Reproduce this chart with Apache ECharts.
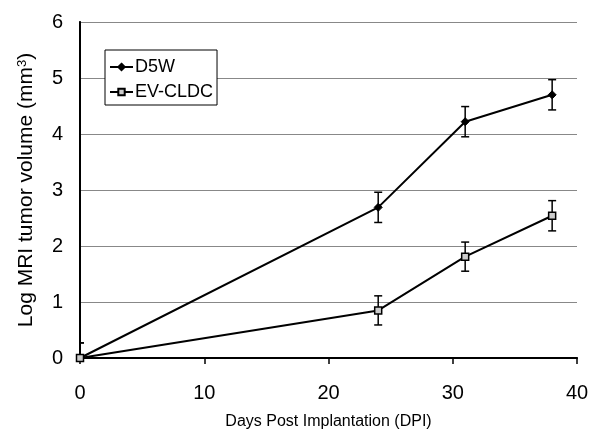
<!DOCTYPE html>
<html>
<head>
<meta charset="utf-8">
<script src="https://cdn.jsdelivr.net/npm/echarts@6/dist/echarts.min.js"></script>
<style>
  html, body { margin: 0; padding: 0; background: #fff; }
  #chart { width: 591px; height: 429px; }
</style>
</head>
<body>
<div id="chart"></div>
<script>
// Days post implantation at which tumors were imaged
const days = [0, 24, 31, 38];
// Mean log tumor volume and standard error per group
const d5w = [0, 2.69, 4.22, 4.70];
const d5wErr = [0.27, 0.27, 0.27, 0.27];
const evCldc = [0, 0.85, 1.81, 2.54];
const evCldcErr = [0.27, 0.26, 0.26, 0.27];
const seriesNames = ['D5W', 'EV-CLDC'];

const FONT = '"Liberation Sans", Arial, sans-serif';

function errorData(values, errs) {
  return days.map((d, i) => [d, values[i] - errs[i], values[i] + errs[i]]);
}

function renderErrorBar(params, api) {
  const x = api.value(0);
  const lo = api.coord([x, api.value(1)]);
  const hi = api.coord([x, api.value(2)]);
  const half = 4;
  const style = { stroke: '#000', lineWidth: 1.5 };
  return {
    type: 'group',
    children: [
      { type: 'line', shape: { x1: hi[0], y1: hi[1], x2: lo[0], y2: lo[1] }, style },
      { type: 'line', shape: { x1: hi[0] - half, y1: hi[1], x2: hi[0] + half, y2: hi[1] }, style },
      { type: 'line', shape: { x1: lo[0] - half, y1: lo[1], x2: lo[0] + half, y2: lo[1] }, style }
    ]
  };
}

const chart = echarts.init(document.getElementById('chart'), null, { renderer: 'canvas' });

chart.setOption({
  animation: false,
  backgroundColor: '#fff',
  textStyle: { fontFamily: FONT, color: '#000' },
  grid: { left: 80, right: 14, top: 22, bottom: 71, containLabel: false, outerBoundsMode: 'none' },
  legend: {
    data: seriesNames,
    orient: 'vertical',
    left: 105,
    top: 50,
    padding: [8, 4, 4, 4],
    itemGap: 7,
    itemWidth: 23,
    itemHeight: 8,
    backgroundColor: '#fff',
    borderColor: '#000',
    borderWidth: 1,
    borderRadius: 0,
    textStyle: { fontFamily: FONT, fontSize: 18, color: '#000', padding: [0, 0, 0, -3] }
  },
  xAxis: [{
    type: 'value',
    min: 0,
    max: 40,
    interval: 10,
    name: 'Days Post Implantation (DPI)',
    nameLocation: 'middle',
    nameGap: 56,
    nameTextStyle: { fontFamily: FONT, fontSize: 16, color: '#000' },
    axisLine: { show: true, onZero: false, lineStyle: { color: '#000', width: 2 } },
    axisTick: { show: true, inside: false, length: 6, lineStyle: { color: '#000', width: 1.5 } },
    axisLabel: { fontFamily: FONT, fontSize: 20, color: '#000', margin: 25 },
    splitLine: { show: false }
  }, {
    type: 'value',
    position: 'top',
    min: 0,
    max: 40,
    axisLine: { show: true, lineStyle: { color: '#000', width: 1.5 } },
    axisTick: { show: false },
    axisLabel: { show: false },
    splitLine: { show: false }
  }],
  yAxis: [{
    type: 'value',
    min: 0,
    max: 6,
    interval: 1,
    name: 'Log MRI tumor volume (mm{sup|3})',
    nameLocation: 'middle',
    nameRotate: 90,
    nameGap: 43,
    nameTextStyle: {
      fontFamily: FONT, fontSize: 21, color: '#000',
      rich: { sup: { fontFamily: FONT, fontSize: 13, color: '#000', verticalAlign: 'top', padding: [0, 0, 8, 0] } }
    },
    axisLine: { show: true, onZero: false, lineStyle: { color: '#000', width: 2 } },
    axisTick: { show: false },
    axisLabel: { fontFamily: FONT, fontSize: 20, color: '#000', margin: 17 },
    splitLine: { show: true, lineStyle: { color: '#888', width: 1 } }
  }, {
    type: 'value',
    position: 'right',
    min: 0,
    max: 6,
    axisLine: { show: true, lineStyle: { color: '#000', width: 1.5 } },
    axisTick: { show: false },
    axisLabel: { show: false },
    splitLine: { show: false }
  }],
  series: [
    {
      name: 'D5W',
      type: 'line',
      data: days.map((d, i) => [d, d5w[i]]),
      symbol: 'diamond',
      symbolSize: 8,
      lineStyle: { color: '#000', width: 2 },
      itemStyle: { color: '#000', borderColor: '#000', borderWidth: 1 },
      z: 3
    },
    {
      name: 'EV-CLDC',
      type: 'line',
      data: days.map((d, i) => [d, evCldc[i]]),
      symbol: 'rect',
      symbolSize: 7,
      lineStyle: { color: '#000', width: 2 },
      itemStyle: { color: '#ccc', borderColor: '#000', borderWidth: 1.5 },
      z: 3
    },
    {
      name: 'D5W error',
      type: 'custom',
      renderItem: renderErrorBar,
      data: errorData(d5w, d5wErr),
      encode: { x: 0, y: [1, 2] },
      clip: true,
      z: 2
    },
    {
      name: 'EV-CLDC error',
      type: 'custom',
      renderItem: renderErrorBar,
      data: errorData(evCldc, evCldcErr),
      encode: { x: 0, y: [1, 2] },
      clip: true,
      z: 2
    }
  ]
});
</script>
</body>
</html>
